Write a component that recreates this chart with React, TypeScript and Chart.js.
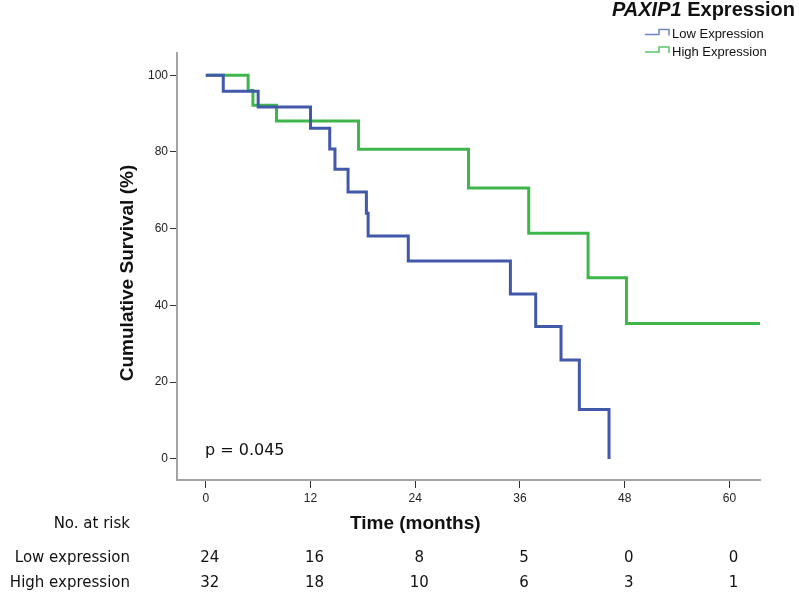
import React, { useEffect, useRef } from "react";
import { Chart, registerables } from "chart.js";

Chart.register(...registerables);

// ---- Data ----
const lowTimes = [0, 2.0, 6.0, 12.0, 14.2, 14.8, 16.3, 18.4, 18.6, 23.2, 34.9, 37.8, 40.7, 42.8, 46.2];
const lowSurvival = [100, 95.8, 91.7, 86.2, 80.8, 75.5, 69.6, 64.0, 58.1, 51.6, 43.0, 34.5, 25.8, 12.9, 0];

const highTimes = [0, 4.85, 5.4, 8.1, 17.5, 30.1, 37.0, 43.8, 48.2, 63.5];
const highSurvival = [100, 96.0, 92.2, 88.1, 80.7, 70.6, 58.8, 47.2, 35.3, 35.3];

const xTicks = [0, 12, 24, 36, 48, 60];
const yTicks = [0, 20, 40, 60, 80, 100];

const riskLow = [24, 16, 8, 5, 0, 0];
const riskHigh = [32, 18, 10, 6, 3, 1];

const seriesNames = ["Low Expression", "High Expression"];
const riskRowNames = ["Low expression", "High expression"];
const pValueText = "p = 0.045";

const BLUE = "#4258a8";
const GREEN = "#3fb64b";
const TABLE_FONT = "15px 'DejaVu Sans', Verdana, sans-serif";

const overlay = {
  id: "kmOverlay",
  afterDraw(chart: any) {
    const ctx = chart.ctx as CanvasRenderingContext2D;
    const xs = chart.scales.x;
    ctx.save();
    ctx.fillStyle = "#111";

    // Y axis title
    ctx.save();
    ctx.translate(128, 273);
    ctx.rotate(-Math.PI / 2);
    ctx.font = "bold 19px 'Liberation Sans', Arial, sans-serif";
    ctx.textAlign = "center";
    ctx.textBaseline = "middle";
    ctx.fillText("Cumulative Survival (%)", 0, 0);
    ctx.restore();

    // X axis title
    ctx.font = "bold 19px 'Liberation Sans', Arial, sans-serif";
    ctx.textAlign = "center";
    ctx.textBaseline = "middle";
    ctx.fillText("Time (months)", xs.getPixelForValue(24), 524);

    // p value
    ctx.font = "16px 'DejaVu Sans', Verdana, sans-serif";
    ctx.textAlign = "left";
    ctx.fillText(pValueText, 205, 451);

    // Risk table
    ctx.font = TABLE_FONT;
    ctx.textAlign = "right";
    ctx.fillText("No. at risk", 130, 524);
    ctx.fillText(riskRowNames[0], 130, 558);
    ctx.fillText(riskRowNames[1], 130, 583);
    ctx.textAlign = "center";
    xTicks.forEach((t, i) => {
      const px = xs.getPixelForValue(t) + 4;
      ctx.fillText(String(riskLow[i]), px, 558);
      ctx.fillText(String(riskHigh[i]), px, 583);
    });

    // Legend title
    ctx.textAlign = "right";
    ctx.font = "bold 20px 'Liberation Sans', Arial, sans-serif";
    const word2 = " Expression";
    const w2 = ctx.measureText(word2).width;
    ctx.fillText(word2, 795, 10);
    ctx.font = "italic bold 20px 'Liberation Sans', Arial, sans-serif";
    ctx.fillText("PAXIP1", 795 - w2, 10);

    // Legend entries
    const entries = [
      { name: seriesNames[0], color: "#7086c4", y: 34.5 },
      { name: seriesNames[1], color: "#5cc465", y: 52 },
    ];
    entries.forEach((e) => {
      ctx.strokeStyle = e.color;
      ctx.lineWidth = 1.5;
      ctx.beginPath();
      ctx.moveTo(645, e.y);
      ctx.lineTo(659, e.y);
      ctx.lineTo(659, e.y - 5);
      ctx.lineTo(669, e.y - 5);
      ctx.lineTo(669, e.y + 1);
      ctx.stroke();
      ctx.fillStyle = "#111";
      ctx.font = "13px 'Liberation Sans', Arial, sans-serif";
      ctx.textAlign = "left";
      ctx.textBaseline = "middle";
      ctx.fillText(e.name, 672, e.y);
    });

    ctx.restore();
  },
};

export default function App() {
  const ref = useRef<HTMLCanvasElement | null>(null);

  useEffect(() => {
    if (!ref.current) return;
    const lowPts = lowTimes.map((t, i) => ({ x: t, y: lowSurvival[i] }));
    const highPts = highTimes.map((t, i) => ({ x: t, y: highSurvival[i] }));
    const tickFont = { size: 12, family: "'Liberation Sans', Arial, sans-serif" };
    const chart = new Chart(ref.current, {
      type: "line",
      data: {
        datasets: [
          {
            label: seriesNames[0],
            data: lowPts,
            stepped: "before",
            borderColor: BLUE,
            borderWidth: 3,
            pointRadius: 0,
            fill: false,
          },
          {
            label: seriesNames[1],
            data: highPts,
            stepped: "before",
            borderColor: GREEN,
            borderWidth: 3,
            pointRadius: 0,
            fill: false,
          },
        ],
      },
      options: {
        responsive: false,
        animation: false,
        layout: { padding: { left: 0, top: 53, right: 39, bottom: 84 } },
        plugins: { legend: { display: false }, tooltip: { enabled: false } },
        scales: {
          x: {
            type: "linear",
            min: -3.3,
            max: 63.5,
            border: { display: true, color: "#a3a3a3", width: 2 },
            grid: { drawOnChartArea: false, drawTicks: true, tickLength: 8, tickColor: "#333", lineWidth: 1 },
            ticks: { font: tickFont, color: "#222", padding: 3, maxRotation: 0 },
            afterBuildTicks: (s: any) => {
              s.ticks = xTicks.map((v) => ({ value: v }));
            },
            afterFit: (s: any) => {
              s.height = 30;
            },
          },
          y: {
            type: "linear",
            min: -5.5,
            max: 105.8,
            border: { display: true, color: "#a3a3a3", width: 2 },
            grid: { drawOnChartArea: false, drawTicks: true, tickLength: 7, tickColor: "#333", lineWidth: 1 },
            ticks: { font: tickFont, color: "#222", padding: 2 },
            afterBuildTicks: (s: any) => {
              s.ticks = yTicks.map((v) => ({ value: v }));
            },
            afterFit: (s: any) => {
              s.width = 177;
            },
          },
        },
      },
      plugins: [overlay],
    });
    return () => chart.destroy();
  }, []);

  return (
    <div style={{ position: "fixed", left: 0, top: 0, width: 799, height: 594, background: "#fff" }}>
      <canvas ref={ref} width={799} height={594} style={{ width: 799, height: 594, display: "block" }} />
    </div>
  );
}
